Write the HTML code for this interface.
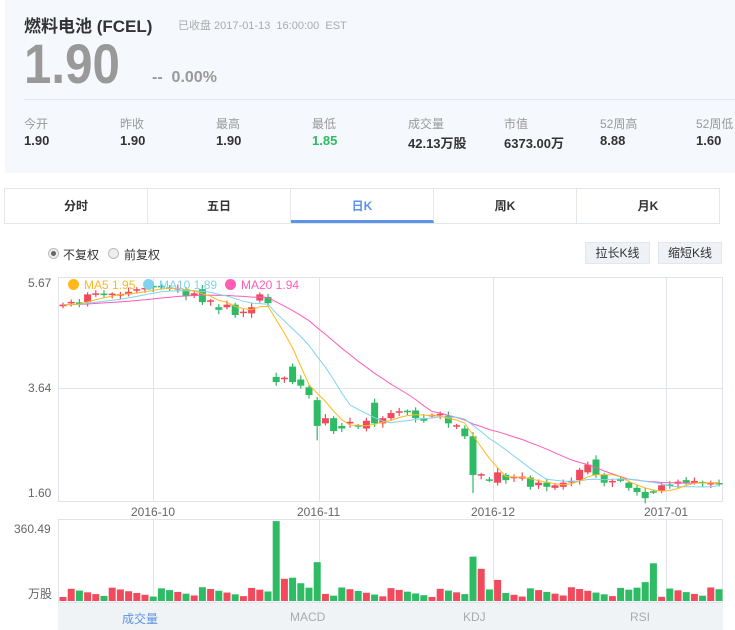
<!DOCTYPE html>
<html><head><meta charset="utf-8">
<style>
*{margin:0;padding:0;box-sizing:border-box}
body{width:735px;height:630px;background:#fff;font-family:"Liberation Sans","Noto Sans CJK SC",sans-serif;position:relative;overflow:hidden;color:#333}
.a{position:absolute;white-space:nowrap}
.hdr{position:absolute;left:5px;top:0;width:730px;height:173px;background:#f5f8fc}
.lbl{font-size:12px;color:#999;top:115px}
.val{font-size:13px;font-weight:bold;color:#333;top:133px}
.tabs{position:absolute;left:4px;top:188px;width:716px;height:36px;border:1px solid #e3e6ea;display:flex}
.tabs div{flex:1;text-align:center;line-height:34px;font-size:12px;font-weight:bold;border-right:1px solid #e3e6ea}
.tabs div:last-child{border-right:none}
.btn{position:absolute;top:242px;height:22px;background:#eef1f5;border:1px solid #e3e6ea;font-size:12px;line-height:20px;text-align:center}
</style></head><body>
<div class="hdr"></div>
<div class="a" style="left:24px;top:12px;font-size:17px;font-weight:bold;color:#333">燃料电池 (FCEL)</div>
<div class="a" style="left:178px;top:17px;font-size:11px;color:#aaa">已收盘 2017-01-13&nbsp; 16:00:00&nbsp; EST</div>
<div class="a" style="left:24px;top:34px;font-size:56px;color:#999;line-height:60px;font-weight:bold;transform:scaleX(0.88);transform-origin:0 0">1.90</div>
<div class="a" style="left:152px;top:69px;font-size:16px;color:#999;font-weight:bold">--&nbsp; 0.00%</div>
<div class="a" style="left:24px;top:99px;width:711px;height:1px;background:#e4e8ee"></div>
<div class="a lbl" style="left:24px">今开</div><div class="a val" style="left:24px">1.90</div>
<div class="a lbl" style="left:120px">昨收</div><div class="a val" style="left:120px">1.90</div>
<div class="a lbl" style="left:216px">最高</div><div class="a val" style="left:216px">1.90</div>
<div class="a lbl" style="left:312px">最低</div><div class="a val" style="left:312px;color:#2dbb64">1.85</div>
<div class="a lbl" style="left:408px">成交量</div><div class="a val" style="left:408px">42.13万股</div>
<div class="a lbl" style="left:504px">市值</div><div class="a val" style="left:504px">6373.00万</div>
<div class="a lbl" style="left:600px">52周高</div><div class="a val" style="left:600px">8.88</div>
<div class="a lbl" style="left:696px">52周低</div><div class="a val" style="left:696px">1.60</div>
<div class="tabs"><div>分时</div><div>五日</div><div style="color:#5b93e6;border-bottom:3px solid #5b93e6">日K</div><div>周K</div><div>月K</div></div>
<div class="a" style="left:48px;top:248px;width:11px;height:11px;border-radius:50%;border:1px solid #bbb;background:#eee"><div style="margin:2px;width:5px;height:5px;border-radius:50%;background:#666"></div></div>
<div class="a" style="left:63px;top:246px;font-size:12px">不复权</div>
<div class="a" style="left:108px;top:248px;width:11px;height:11px;border-radius:50%;border:1px solid #bbb;background:#eee"></div>
<div class="a" style="left:124px;top:246px;font-size:12px">前复权</div>
<div class="btn" style="left:585px;width:65px">拉长K线</div>
<div class="btn" style="left:658px;width:64px">缩短K线</div>
<div class="a" style="left:28px;top:276px;font-size:12px;color:#666">5.67</div>
<div class="a" style="left:28px;top:381px;font-size:12px;color:#666">3.64</div>
<div class="a" style="left:28px;top:486px;font-size:12px;color:#666">1.60</div>
<div class="a" style="left:131px;top:505px;font-size:12px;color:#666">2016-10</div>
<div class="a" style="left:297px;top:505px;font-size:12px;color:#666">2016-11</div>
<div class="a" style="left:471px;top:505px;font-size:12px;color:#666">2016-12</div>
<div class="a" style="left:644px;top:505px;font-size:12px;color:#666">2017-01</div>
<div class="a" style="left:14px;top:522px;font-size:12px;color:#666">360.49</div>
<div class="a" style="left:28px;top:585px;font-size:12px;color:#666">万股</div>
<div class="a" style="left:58px;top:603px;width:665px;height:27px;background:#f0f3f5"></div>
<div class="a" style="left:122px;top:610px;font-size:12px;color:#5b93e6">成交量</div>
<div class="a" style="left:290px;top:610px;font-size:12px;color:#aaa">MACD</div>
<div class="a" style="left:463px;top:610px;font-size:12px;color:#aaa">KDJ</div>
<div class="a" style="left:630px;top:610px;font-size:12px;color:#aaa">RSI</div>
<svg id="s" class="a" style="left:0;top:0" width="735" height="630"></svg>
<div class="a" style="left:68px;top:279px;width:11px;height:11px;border-radius:50%;background:#ffb81c"></div>
<div class="a" style="left:84px;top:278px;font-size:12px;color:#ffb81c">MA5 1.95</div>
<div class="a" style="left:143px;top:279px;width:11px;height:11px;border-radius:50%;background:#7fd3f0"></div>
<div class="a" style="left:159px;top:278px;font-size:12px;color:#7fd3f0">MA10 1.89</div>
<div class="a" style="left:225px;top:279px;width:11px;height:11px;border-radius:50%;background:#ff5cb8"></div>
<div class="a" style="left:241px;top:278px;font-size:12px;color:#ff5cb8">MA20 1.94</div>
<script>
var D=[[5.22,5.25],[5.27,5.29],[5.28,5.27],[5.30,5.45],[5.44,5.47],[5.45,5.44],[5.44,5.45],[5.44,5.44],
[5.45,5.50],[5.52,5.55],[5.55,5.56],[5.60,5.58],[5.60,5.58],[5.57,5.56],[5.55,5.56],[5.55,5.42],[5.42,5.47],[5.55,5.30],[5.30,5.32],[5.20,5.15],[5.20,5.25],[5.25,5.05],[5.08,5.10],[5.08,5.20],[5.33,5.45],[5.40,5.28],
[3.85,3.75],[3.82,3.82],[4.05,3.75],[3.80,3.68],[3.65,3.50],[3.40,2.90],
[2.95,3.05],[3.05,2.80],[2.90,2.85],[2.95,2.98],[2.90,2.88],[2.85,3.00],[3.35,2.95],[2.95,3.05],[3.05,3.15],[3.15,3.17],[3.18,3.18],[3.20,3.05],[3.05,3.00],[3.10,3.10],[3.10,3.12],[3.10,2.95],[2.88,2.90],[2.85,2.70],[2.70,1.95],
[1.95,1.95],[1.85,1.85],[1.80,2.00],[1.95,1.85],[1.90,1.90],[1.88,1.92],[1.90,1.72],[1.75,1.80],[1.80,1.72],[1.70,1.75],[1.72,1.80],[1.80,1.82],[1.85,2.05],[2.00,2.15],[2.25,1.95],[1.95,1.80],[1.80,1.82],[1.85,1.85],[1.80,1.70],[1.70,1.62],[1.62,1.50],[1.62,1.62],[1.65,1.75],[1.75,1.75],[1.78,1.82],[1.85,1.80],[1.82,1.82],[1.80,1.78],[1.78,1.78],[1.78,1.77]];
var V={26:360,27:100,28:105,29:80,30:60,31:175,50:200,51:145,53:95,70:60,71:85,72:170};
var G='#2dbb64',R='#f04a5c',h='';
function Y(p){return 283+(5.67-p)*51.6}
function X(i){return 63+i*8.2}
h+='<g stroke="#dfe4ea" stroke-width="1" fill="none">';
h+='<rect x="58.5" y="277.5" width="664" height="224"/><line x1="58" y1="388.5" x2="722" y2="388.5"/>';
h+='<rect x="58.5" y="519.5" width="664" height="83"/>';
[153,319,493,666].forEach(function(x){h+='<line x1="'+x+'.5" y1="277" x2="'+x+'.5" y2="501"/><line x1="'+x+'.5" y1="519" x2="'+x+'.5" y2="602"/>';});
h+='</g>';
var cl=D.map(function(d){return d[1]});
function ma(n){var pts=[];for(var i=0;i<cl.length;i++){var s=0;for(var k=0;k<n;k++){s+=cl[Math.max(0,i-k)];}pts.push(X(i).toFixed(1)+','+Y(s/n).toFixed(1));}return pts.join(' ');}
D.forEach(function(d,i){var o=d[0],c=d[1],col=c>o?R:(c<o?G:(i%2?R:G));var hi=Math.max(o,c)+0.04+(i%3)*0.02,lo=Math.min(o,c)-0.04-(i%4)*0.015;
if(i==31)lo=2.62;if(i==50)lo=1.6;if(i==71)lo=1.4;
var x=X(i);h+='<line x1="'+x+'" y1="'+Y(hi)+'" x2="'+x+'" y2="'+Y(lo)+'" stroke="'+col+'" stroke-width="1.2"/>';
var t=Y(Math.max(o,c)),b=Y(Math.min(o,c));if(b-t<1.5){t-=0.75;b=t+1.5;}
h+='<rect x="'+(x-3.5)+'" y="'+t+'" width="7" height="'+(b-t)+'" fill="'+col+'"/>';
var v=V[i]||(18+((i*37)%45));var vh=v/360.49*80;
h+='<rect x="'+(x-3.5)+'" y="'+(601-vh)+'" width="7" height="'+vh+'" fill="'+col+'"/>';});
h+='<polyline fill="none" stroke="#ff5cb8" stroke-width="1" points="'+ma(20)+'"/>';
h+='<polyline fill="none" stroke="#7fd3f0" stroke-width="1" points="'+ma(10)+'"/>';
h+='<polyline fill="none" stroke="#ffb81c" stroke-width="1" points="'+ma(5)+'"/>';
document.getElementById('s').innerHTML=h;
</script>
</body></html>
